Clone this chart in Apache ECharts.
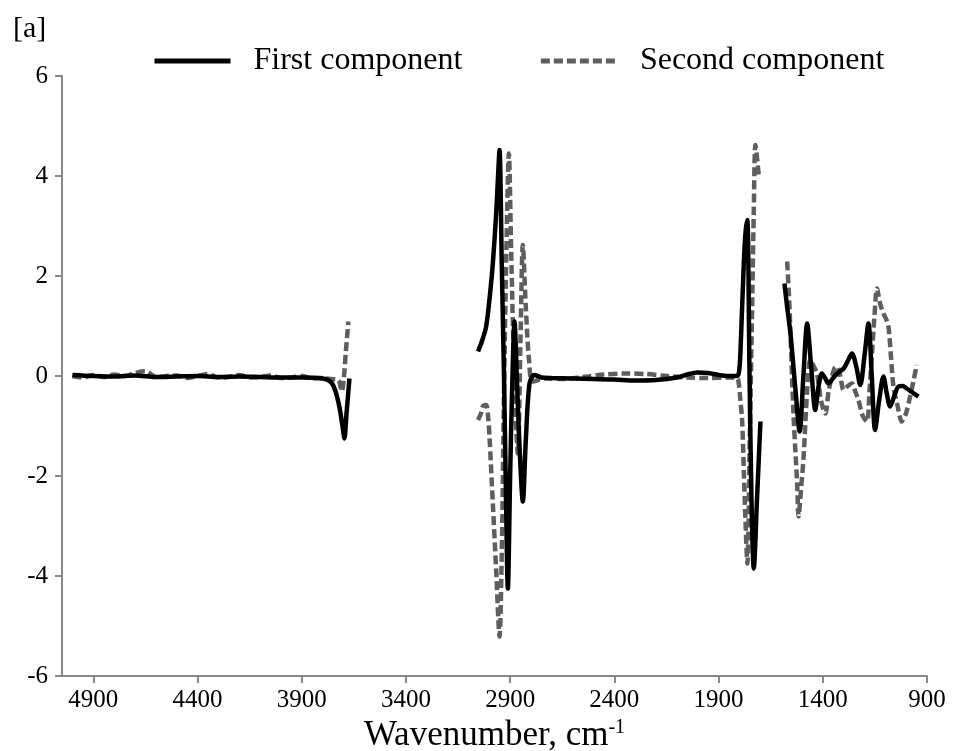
<!DOCTYPE html>
<html>
<head>
<meta charset="utf-8">
<script src="https://cdn.jsdelivr.net/npm/echarts@6/dist/echarts.min.js"></script>
<style>html,body{margin:0;padding:0;background:#fff;}#c{width:954px;height:751px;}</style>
</head>
<body>
<div id="c"></div>
<script>
// Wavenumber ticks
const xTickVals = [900, 1400, 1900, 2400, 2900, 3400, 3900, 4400, 4900];
const yTickVals = [-6, -4, -2, 0, 2, 4, 6];

// First component (null = gap)
const firstWn = [5000,4900,4800,4700,4600,4500,4400,4300,4200,4100,4000,3900,3800,3760,3740,3720,3705,3695,3685,3671,
  3360,
  3054,3035,3015,2995,2983,2967,2958,2951,2940,2929,2920,2911,2900,2890,2879,2868,2855,2839,2825,2807,2783,2750,2700,2600,2500,2400,2300,2200,2100,2050,2000,1950,1900,1850,1810,1800,1794,1779,1770,1762,1752,1742,1731,1715,1699,
  1640,
  1584,1570,1555,1531,1511,1493,1475,1456,1436,1420,1404,1388,1372,1352,1332,1300,1280,1260,1240,1220,1200,1181,1165,1149,1130,1109,1093,1077,1057,1037,1017,997,970,941];
const firstVal = [0.02,0.0,-0.01,0.01,-0.02,-0.01,0.0,-0.02,-0.01,-0.02,-0.03,-0.03,-0.05,-0.12,-0.28,-0.6,-0.98,-1.25,-0.75,-0.05,
  null,
  0.49,0.7,0.99,1.7,2.25,3.25,4.0,4.52,2.2,-0.1,-2.4,-4.25,-2.0,-0.2,1.09,0.0,-1.4,-2.51,-1.3,-0.15,0.02,-0.03,-0.04,-0.05,-0.06,-0.07,-0.09,-0.08,-0.03,0.03,0.07,0.06,0.02,0.0,0.0,0.15,0.59,2.25,2.9,3.12,0.2,-2.5,-3.85,-2.4,-0.91,
  null,
  1.85,1.35,0.85,-0.28,-1.11,0.0,1.05,0.2,-0.68,-0.2,0.05,-0.05,-0.15,-0.05,0.05,0.15,0.3,0.45,0.2,-0.18,0.4,1.05,0.0,-1.08,-0.5,-0.01,-0.35,-0.61,-0.4,-0.21,-0.2,-0.25,-0.33,-0.41];

// Second component (null = gap)
const secondWn = [5000,4950,4900,4850,4800,4750,4700,4650,4600,4550,4500,4450,4400,4350,4300,4250,4200,4150,4100,4050,4000,3950,3900,3850,3800,3760,3724,3708,3698,3688,3676,
  3360,
  3054,3040,3030,3015,3005,2999,2983,2967,2951,2940,2930,2918,2906,2895,2880,2863,2850,2839,2825,2810,2791,2727,2650,2550,2450,2350,2250,2150,2050,1950,1850,1810,1803,1795,1787,1779,1771,1762,1750,1738,1731,1723,1707,
  1640,
  1571,1562,1555,1540,1523,1516,1505,1492,1475,1460,1444,1428,1408,1388,1372,1356,1344,1332,1316,1300,1280,1260,1245,1229,1208,1188,1176,1164,1152,1140,1125,1109,1097,1085,1073,1061,1041,1021,1001,981,965,949];
const secondVal = [0.0,-0.03,0.02,-0.02,0.03,0.0,0.06,0.1,-0.02,0.0,0.01,-0.04,0.0,0.04,-0.03,-0.02,0.02,-0.03,-0.02,0.01,-0.04,-0.03,0.0,-0.05,-0.04,-0.06,-0.08,-0.31,-0.05,0.5,1.09,
  null,
  -0.88,-0.75,-0.6,-0.58,-0.85,-1.21,-2.55,-3.88,-5.21,-3.5,-0.5,2.5,4.45,2.5,0.0,-1.55,0.8,2.62,1.4,0.35,-0.11,-0.05,-0.06,-0.02,0.03,0.05,0.04,0.0,-0.03,-0.04,-0.03,-0.05,-0.15,-0.5,-0.88,-1.88,-2.88,-3.75,-1.2,1.59,3.32,4.62,4.0,
  null,
  2.29,1.6,0.85,-0.81,-2.15,-2.81,-2.3,-1.61,-0.28,0.32,0.2,0.05,-0.5,-0.75,-0.3,-0.01,0.15,0.19,0.0,-0.28,-0.2,-0.15,-0.3,-0.48,-0.8,-0.91,-0.3,0.45,1.2,1.75,1.45,1.25,1.15,0.99,0.4,-0.21,-0.6,-0.91,-0.75,-0.41,-0.1,0.22];

const FONT = 'Liberation Serif';
const pair = (xs, ys) => xs.map((x, i) => [x, ys[i] === null ? '-' : ys[i]]);

const chart = echarts.init(document.getElementById('c'), null, {renderer: 'canvas'});
chart.setOption({
  backgroundColor: '#fff',
  animation: false,
  title: {
    text: '[a]', left: 8, top: 9,
    textStyle: {fontFamily: FONT, fontSize: 30, fontWeight: 'normal', color: '#000'}
  },
  legend: {
    left: 147, top: 40,
    itemWidth: 76, itemHeight: 20, itemGap: 76,
    itemStyle: {opacity: 0},
    lineStyle: {width: 5},
    textStyle: {fontFamily: FONT, fontSize: 32, color: '#000', padding: [0, 0, 0, 18]},
    data: ['First component', 'Second component']
  },
  grid: {left: 62, right: 27, top: 76, bottom: 75, containLabel: false, outerBoundsMode: 'none'},
  xAxis: {
    type: 'value', inverse: true, min: 900, max: 5050, interval: 500,
    axisLine: {show: true, onZero: false, lineStyle: {color: '#888', width: 2}},
    axisTick: {show: true, length: 7, lineStyle: {color: '#888', width: 2}, customValues: xTickVals},
    axisLabel: {customValues: xTickVals, formatter: v => String(v), fontFamily: FONT, fontSize: 25, color: '#000', margin: 12},
    splitLine: {show: false},
    name: '{a|Wavenumber, cm}{b|-1}',
    nameLocation: 'middle', nameGap: 42,
    nameTextStyle: {
      rich: {
        a: {fontFamily: FONT, fontSize: 35, color: '#000'},
        b: {fontFamily: FONT, fontSize: 20, color: '#000', verticalAlign: 'top', padding: [0, 0, 16, 0]}
      }
    }
  },
  yAxis: {
    type: 'value', min: -6, max: 6, interval: 2,
    axisLine: {show: true, lineStyle: {color: '#888', width: 2}},
    axisTick: {show: true, length: 7, lineStyle: {color: '#888', width: 2}, customValues: yTickVals},
    axisLabel: {customValues: yTickVals, formatter: v => String(v), fontFamily: FONT, fontSize: 25, color: '#000', margin: 14},
    splitLine: {show: false}
  },
  series: [
    {
      name: 'First component', type: 'line', data: pair(firstWn, firstVal),
      symbol: 'none', showSymbol: false, connectNulls: false, smooth: 0.3,
      lineStyle: {color: '#000', width: 4.5},
      itemStyle: {color: '#000'}, z: 3
    },
    {
      name: 'Second component', type: 'line', data: pair(secondWn, secondVal),
      symbol: 'none', showSymbol: false, connectNulls: false, smooth: 0.3,
      lineStyle: {color: '#5e5e5e', width: 4.5, type: [9, 4]},
      itemStyle: {color: '#5e5e5e'}, z: 2
    }
  ]
});
</script>
</body>
</html>
